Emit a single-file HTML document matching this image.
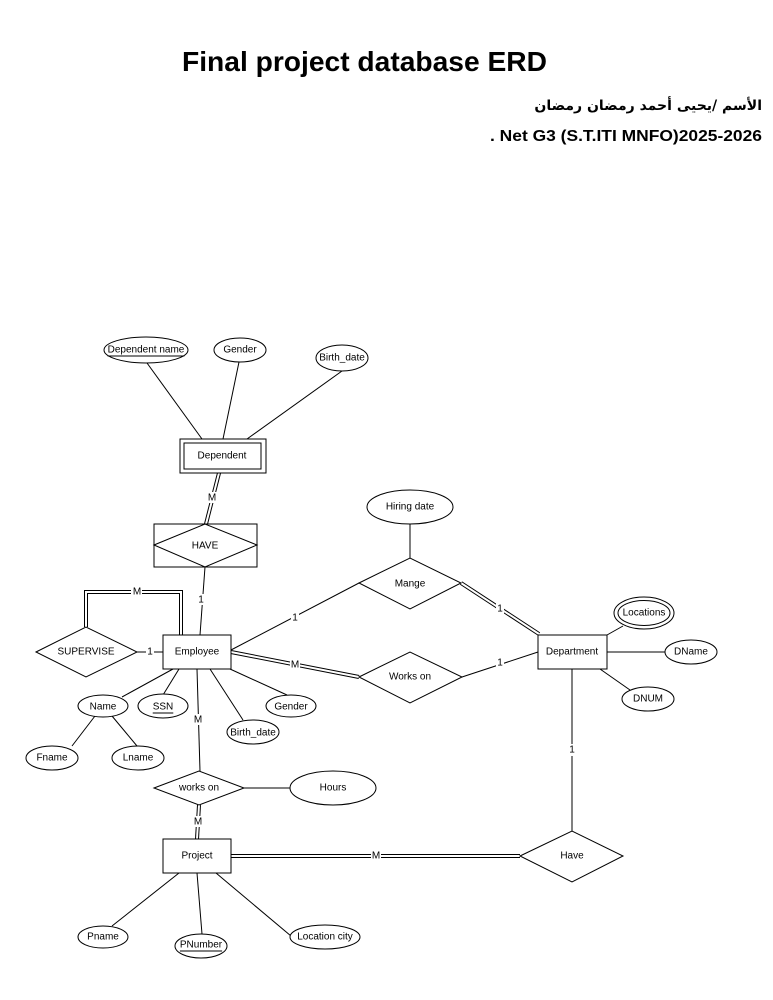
<!DOCTYPE html>
<html><head><meta charset="utf-8"><style>
html,body{margin:0;padding:0;background:#fff;}
body{position:relative;width:773px;height:1000px;overflow:hidden;}
svg{display:block;position:absolute;left:0;top:0;}
text{font-family:"Liberation Sans",Arial,sans-serif;fill:#000;}
.t{font-size:10px;text-anchor:middle;dominant-baseline:central;}
.ar{position:absolute;right:11px;top:96px;font-family:"DejaVu Sans","Noto Sans CJK SC",sans-serif;font-weight:bold;font-size:14px;direction:rtl;white-space:nowrap;z-index:2;line-height:20px;}
</style></head><body>
<svg width="773" height="1000" viewBox="0 0 773 1000" xmlns="http://www.w3.org/2000/svg">
<rect width="773" height="1000" fill="#fff"/>
<text x="182" y="71" font-size="28" font-weight="bold" textLength="365" lengthAdjust="spacingAndGlyphs">Final project database ERD</text>
<text x="490" y="141" font-size="16" font-weight="bold" textLength="272" lengthAdjust="spacingAndGlyphs">. Net G3 (S.T.ITI MNFO)2025-2026</text>

<g stroke="#000" stroke-width="1" fill="none">
<line x1="147" y1="363" x2="202" y2="439"/>
<line x1="239" y1="362" x2="223" y2="439"/>
<line x1="342" y1="371" x2="247" y2="439"/>
<line x1="205" y1="567" x2="200" y2="635"/>
<line x1="137" y1="652" x2="163" y2="652"/>
<line x1="231" y1="650" x2="359" y2="583"/>
<line x1="410" y1="524" x2="410" y2="558"/>
<line x1="462" y1="677" x2="538" y2="652"/>
<line x1="173" y1="669" x2="122" y2="697"/>
<line x1="179" y1="669" x2="163" y2="695"/>
<line x1="210" y1="669" x2="243" y2="720"/>
<line x1="230" y1="669" x2="287" y2="695"/>
<line x1="95" y1="716" x2="72" y2="746"/>
<line x1="112" y1="716" x2="137" y2="746"/>
<line x1="197" y1="669" x2="200" y2="771"/>
<line x1="244" y1="788" x2="291" y2="788"/>
<line x1="179" y1="873" x2="112" y2="926"/>
<line x1="197" y1="873" x2="202" y2="934"/>
<line x1="216" y1="873" x2="291" y2="936"/>
<line x1="607" y1="635" x2="623" y2="626"/>
<line x1="607" y1="652" x2="665" y2="652"/>
<line x1="600" y1="669" x2="630" y2="690"/>
<line x1="572" y1="669" x2="572" y2="831"/>
</g>

<g fill="none" stroke-linejoin="miter">
<g stroke="#000" stroke-width="4">
<line x1="219" y1="473" x2="206" y2="524"/>
<polyline points="86,627 86,592 181,592 181,635"/>
<line x1="231" y1="652" x2="359" y2="677"/>
<line x1="461" y1="583" x2="539" y2="634"/>
<line x1="199" y1="805" x2="197" y2="839"/>
<line x1="231" y1="856" x2="520" y2="856"/>
</g>
<g stroke="#fff" stroke-width="2">
<line x1="219" y1="473" x2="206" y2="524"/>
<polyline points="86,627 86,592 181,592 181,635"/>
<line x1="231" y1="652" x2="359" y2="677"/>
<line x1="461" y1="583" x2="539" y2="634"/>
<line x1="199" y1="805" x2="197" y2="839"/>
<line x1="231" y1="856" x2="520" y2="856"/>
</g>
</g>

<g stroke="#000" stroke-width="1" fill="#fff">
<rect x="180" y="439" width="86" height="34"/>
<rect x="184" y="443" width="77" height="26"/>
<ellipse cx="146" cy="350" rx="42" ry="13"/>
<ellipse cx="240" cy="350" rx="26" ry="12"/>
<ellipse cx="342" cy="358" rx="26" ry="13"/>
<rect x="154" y="524" width="103" height="43"/>
<polygon points="154,545 205,524 257,545 205,567"/>
<rect x="163" y="635" width="68" height="34"/>
<polygon points="36,652 86,627 137,652 86,677"/>
<ellipse cx="103" cy="706" rx="25" ry="11"/>
<ellipse cx="163" cy="706" rx="25" ry="12"/>
<ellipse cx="291" cy="706" rx="25" ry="11"/>
<ellipse cx="253" cy="732" rx="26" ry="12"/>
<ellipse cx="52" cy="758" rx="26" ry="12"/>
<ellipse cx="138" cy="758" rx="26" ry="12"/>
<polygon points="154,788 199,771 244,788 199,805"/>
<ellipse cx="333" cy="788" rx="43" ry="17"/>
<rect x="163" y="839" width="68" height="34"/>
<ellipse cx="103" cy="937" rx="25" ry="11"/>
<ellipse cx="201" cy="946" rx="26" ry="12"/>
<ellipse cx="325" cy="937" rx="35" ry="12"/>
<ellipse cx="410" cy="507" rx="43" ry="17"/>
<polygon points="359,583 410,558 461,583 410,609"/>
<polygon points="359,677 410,652 462,677 410,703"/>
<rect x="538" y="635" width="69" height="34"/>
<ellipse cx="644" cy="613" rx="30" ry="16"/>
<ellipse cx="644" cy="613" rx="26" ry="12.5"/>
<ellipse cx="691" cy="652" rx="26" ry="12"/>
<ellipse cx="648" cy="699" rx="26" ry="12"/>
<polygon points="520,856 572,831 623,856 572,882"/>
</g>

<g fill="#fff">
<rect x="208" y="492" width="9" height="11"/>
<rect x="197" y="594" width="7" height="11"/>
<rect x="131" y="587" width="11" height="10"/>
<rect x="146" y="647" width="8" height="11"/>
<rect x="291" y="612" width="8" height="11"/>
<rect x="290" y="659" width="10" height="11"/>
<rect x="496" y="603" width="8" height="11"/>
<rect x="496" y="657" width="8" height="11"/>
<rect x="193" y="714" width="10" height="11"/>
<rect x="193" y="816" width="10" height="11"/>
<rect x="371" y="851" width="10" height="10"/>
<rect x="568" y="744" width="8" height="12"/>
</g>
<g>
<text class="t" x="212" y="498">M</text>
<text class="t" x="201" y="600">1</text>
<text class="t" x="137" y="592">M</text>
<text class="t" x="150" y="652">1</text>
<text class="t" x="295" y="618">1</text>
<text class="t" x="295" y="665">M</text>
<text class="t" x="500" y="609">1</text>
<text class="t" x="500" y="663">1</text>
<text class="t" x="198" y="720">M</text>
<text class="t" x="198" y="822">M</text>
<text class="t" x="376" y="856">M</text>
<text class="t" x="572" y="750">1</text>
</g>

<g>
<text class="t" x="146" y="350" text-decoration="underline">Dependent name</text>
<text class="t" x="240" y="350">Gender</text>
<text class="t" x="342" y="358">Birth_date</text>
<text class="t" x="222" y="456">Dependent</text>
<text class="t" x="205" y="546">HAVE</text>
<text class="t" x="197" y="652">Employee</text>
<text class="t" x="86" y="652">SUPERVISE</text>
<text class="t" x="103" y="707">Name</text>
<text class="t" x="163" y="707" text-decoration="underline">SSN</text>
<text class="t" x="291" y="707">Gender</text>
<text class="t" x="253" y="733">Birth_date</text>
<text class="t" x="52" y="758">Fname</text>
<text class="t" x="138" y="758">Lname</text>
<text class="t" x="199" y="788">works on</text>
<text class="t" x="333" y="788">Hours</text>
<text class="t" x="197" y="856">Project</text>
<text class="t" x="103" y="937">Pname</text>
<text class="t" x="201" y="945" text-decoration="underline">PNumber</text>
<text class="t" x="325" y="937">Location city</text>
<text class="t" x="410" y="507">Hiring date</text>
<text class="t" x="410" y="584">Mange</text>
<text class="t" x="410" y="677">Works on</text>
<text class="t" x="572" y="652">Department</text>
<text class="t" x="644" y="613">Locations</text>
<text class="t" x="691" y="652">DName</text>
<text class="t" x="648" y="699">DNUM</text>
<text class="t" x="572" y="856">Have</text>
</g>
</svg>
<div class="ar">الأسم /يحيى أحمد رمضان رمضان</div>
</body></html>
